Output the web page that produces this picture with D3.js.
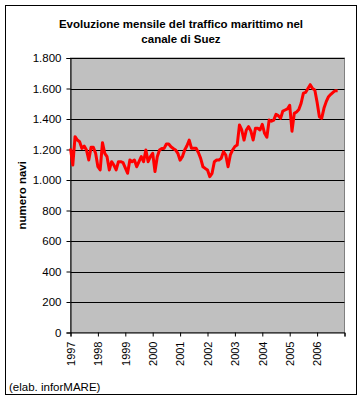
<!DOCTYPE html>
<html>
<head>
<meta charset="utf-8">
<script src="https://cdn.jsdelivr.net/npm/d3@7"></script>
<style>
  body { margin: 0; background: #fff; }
  svg { display: block; font-family: "Liberation Sans", Arial, sans-serif; }
</style>
</head>
<body>
<div id="chart"></div>
<script>
// Monthly ship transits, Suez canal, Jan 1997 onwards
let years = ['1997', '1998', '1999', '2000', '2001', '2002', '2003', '2004', '2005', '2006'];
let yTicks = [0, 200, 400, 600, 800, 1000, 1200, 1400, 1600, 1800];
let yTickLabels = ['0', '200', '400', '600', '800', '1.000', '1.200', '1.400', '1.600', '1.800'];
let navi = [
	1207, 1098, 1284, 1262, 1251, 1207, 1223, 1197, 1131, 1214, 1214, 1175, // 1997
	1087, 1066, 1245, 1175, 1153, 1066, 1120, 1098, 1066, 1120, 1120, 1114, // 1998
	1080, 1044, 1131, 1120, 1131, 1087, 1120, 1153, 1120, 1197, 1120, 1153, // 1999
	1175, 1055, 1153, 1197, 1207, 1207, 1236, 1236, 1218, 1207, 1197, 1175, // 2000
	1130, 1153, 1197, 1225, 1262, 1208, 1208, 1208, 1180, 1142, 1087, 1076, // 2001
	1066, 1022, 1044, 1120, 1131, 1131, 1142, 1186, 1164, 1087, 1164, 1197, // 2002
	1220, 1229, 1361, 1328, 1262, 1328, 1350, 1320, 1262, 1339, 1339, 1328, // 2003
	1365, 1306, 1280, 1393, 1386, 1393, 1430, 1422, 1404, 1452, 1459, 1466, // 2004
	1490, 1320, 1437, 1446, 1462, 1503, 1570, 1575, 1600, 1625, 1600, 1590, // 2005
	1510, 1415, 1404, 1470, 1514, 1546, 1562, 1575, 1586, 1586              // 2006
];

let W = 363;
let H = 401;
let L = 70.5, R = 344.5, T = 58, B = 332.5; // plot area

let svg = d3.select('#chart').append('svg').attr('width', W).attr('height', H);

// outer frame
svg.append('rect').attr('x', 5.5).attr('y', 5.5).attr('width', 351).attr('height', 389)
		.attr('fill', '#fff').attr('stroke', '#000').attr('stroke-width', 1);

let x = d3.scaleLinear().domain([0, 120]).range([L, R]);
let y = d3.scaleLinear().domain([0, 1800]).range([B, T]);

// plot background
svg.append('rect').attr('x', L).attr('y', T).attr('width', R - L).attr('height', B - T)
		.attr('fill', '#c0c0c0').attr('stroke', '#808080').attr('stroke-width', 1);

// gridlines
svg.append('g').selectAll('line').data(yTicks.slice(1)).enter().append('line')
		.attr('x1', L).attr('x2', R)
		.attr('y1', d => Math.round(y(d)) + 0.5).attr('y2', d => Math.round(y(d)) + 0.5)
		.attr('stroke', '#000').attr('stroke-width', 1);

// y axis
let yAxis = svg.append('g').attr('transform', `translate(${L}, 0)`)
		.call(d3.axisLeft(y).tickValues(yTicks).tickSize(4).tickPadding(5)
				.tickFormat((d, i) => yTickLabels[i]));
yAxis.select('.domain').attr('stroke', '#000');
yAxis.selectAll('text').attr('font-size', 11.5).attr('fill', '#000')
		.attr('font-family', '"Liberation Sans", Arial, sans-serif');

// x axis
let xAxis = svg.append('g').attr('transform', `translate(0, ${B})`)
		.call(d3.axisBottom(x).tickValues(d3.range(0, 121, 12)).tickSize(4)
				.tickFormat(d => years[d / 12] || ''));
xAxis.select('.domain').attr('stroke', '#000');
xAxis.selectAll('text')
		.attr('font-size', 11).attr('fill', '#000')
		.attr('font-family', '"Liberation Sans", Arial, sans-serif')
		.attr('text-anchor', 'end')
		.attr('transform', 'rotate(-90)')
		.attr('x', -9).attr('y', 0).attr('dy', '0.35em');

// the series
let line = d3.line().x((d, i) => x(i)).y(d => y(d));
svg.append('path').datum(navi).attr('d', line)
		.attr('fill', 'none').attr('stroke', '#ff0000').attr('stroke-width', 3)
		.attr('stroke-linejoin', 'round');

// title
let title = svg.append('text').attr('text-anchor', 'middle')
		.attr('font-size', 11.5).attr('font-weight', 'bold');
title.append('tspan').attr('x', 181).attr('y', 28).text('Evoluzione mensile del traffico marittimo nel');
title.append('tspan').attr('x', 181).attr('y', 43).text('canale di Suez');

// y axis title
svg.append('text').attr('transform', `translate(26, ${(T + B) / 2}) rotate(-90)`)
		.attr('text-anchor', 'middle').attr('font-size', 11.5).attr('font-weight', 'bold')
		.text('numero navi');

// footer
svg.append('text').attr('x', 9).attr('y', 391).attr('font-size', 11.5)
		.text('(elab. inforMARE)');
</script>
</body>
</html>
